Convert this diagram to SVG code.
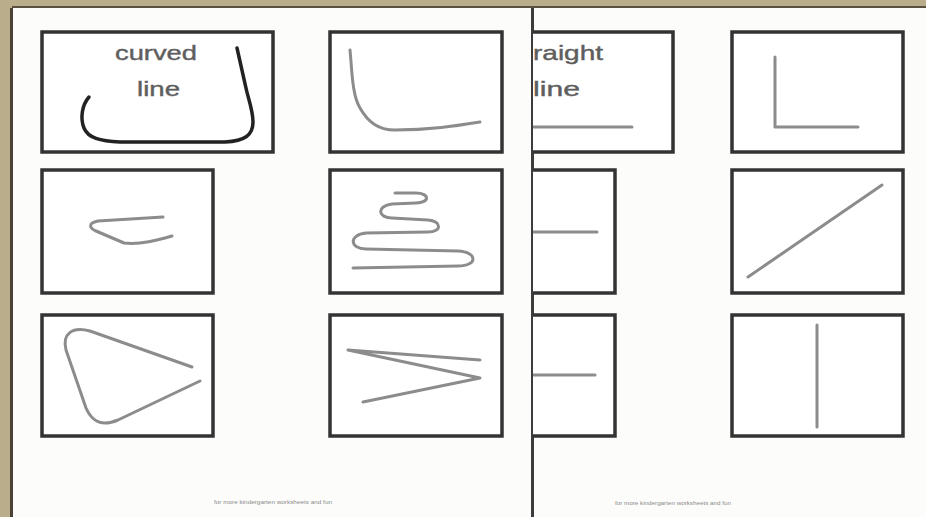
<svg xmlns="http://www.w3.org/2000/svg" width="926" height="517" viewBox="0 0 926 517">
<defs>
<style>
.box{fill:#fff;stroke:#333;stroke-width:3.5}
.ink{fill:none;stroke:#8c8c8c;stroke-width:3;stroke-linecap:round;stroke-linejoin:round}
.lbl{font-family:"Liberation Sans",Arial,sans-serif;font-size:21px;fill:#5e5e5e;stroke:#5e5e5e;stroke-width:0.4}
.foot{font-family:"Liberation Sans",Arial,sans-serif;font-size:5px;fill:#8a8a8a}
</style>
<clipPath id="rightPage"><rect x="533" y="0" width="400" height="517"/></clipPath>
</defs>
<rect x="0" y="0" width="926" height="517" fill="#fcfcfa"/>
<rect x="0" y="0" width="926" height="8" fill="#b9ad8c"/>
<rect x="0" y="6" width="926" height="2" fill="#5a5040"/>
<rect x="0" y="0" width="12" height="517" fill="#b9ad8c"/>
<rect x="10" y="8" width="3" height="509" fill="#4a4236"/>
<rect x="531" y="8" width="3" height="509" fill="#3c3c3c"/>

<g id="box-curved-label">
<rect class="box" x="42" y="32" width="231" height="120"/>
<text class="lbl" x="115" y="60" textLength="82" lengthAdjust="spacingAndGlyphs">curved</text>
<text class="lbl" x="137" y="96" textLength="43" lengthAdjust="spacingAndGlyphs">line</text>
<path d="M89,97 C82,105 80,118 84,128 C88,138 100,141 120,142 L225,142 C245,141 253,135 253,122 C253,110 248,98 246,88 L237,48" fill="none" stroke="#222" stroke-width="3.5" stroke-linecap="round"/>
</g>
<g id="box-r1c2">
<rect class="box" x="330" y="32" width="172" height="120"/>
<path class="ink" d="M350,50 C352,70 352,95 360,108 C368,122 378,130 395,130 C430,130 455,126 480,122"/>
</g>
<g id="box-straight-label" clip-path="url(#rightPage)">
<rect class="box" x="520" y="32" width="153" height="120"/>
<text class="lbl" x="533" y="60" textLength="70" lengthAdjust="spacingAndGlyphs">raight</text>
<text class="lbl" x="533" y="96" textLength="47" lengthAdjust="spacingAndGlyphs">line</text>
<path class="ink" d="M520,127 L632,127"/>
</g>
<g id="box-r1c4">
<rect class="box" x="732" y="32" width="171" height="120"/>
<path class="ink" d="M775,57 L775,127 L858,127"/>
</g>

<g id="box-r2c1">
<rect class="box" x="42" y="170" width="171" height="123"/>
<path class="ink" d="M163,217 L98,221 C88,223 89,228 96,231 L124,243 C140,245 158,240 172,236"/>
</g>
<g id="box-r2c2">
<rect class="box" x="330" y="170" width="172" height="123"/>
<path class="ink" d="M395,193 L416,193 C430,193 430,203 416,203 L392,204 C376,206 378,218 392,218 L428,220 C442,221 442,232 428,232 L366,233 C348,235 350,249 366,249 L458,251 C478,252 478,266 458,266 L353,268"/>
</g>
<g id="box-r2c3" clip-path="url(#rightPage)">
<rect class="box" x="520" y="170" width="95" height="123"/>
<path class="ink" d="M520,232 L597,232"/>
</g>
<g id="box-r2c4">
<rect class="box" x="732" y="170" width="171" height="123"/>
<path class="ink" d="M748,277 L882,185"/>
</g>

<g id="box-r3c1">
<rect class="box" x="42" y="315" width="171" height="121"/>
<path class="ink" d="M192,367 L90,331 C72,326 62,334 66,350 L86,408 C93,424 104,426 118,420 L200,381"/>
</g>
<g id="box-r3c2">
<rect class="box" x="330" y="315" width="172" height="121"/>
<path class="ink" d="M480,360 L348,350 L480,378 L363,402"/>
</g>
<g id="box-r3c3" clip-path="url(#rightPage)">
<rect class="box" x="520" y="315" width="95" height="121"/>
<path class="ink" d="M520,375 L595,375"/>
</g>
<g id="box-r3c4">
<rect class="box" x="732" y="315" width="171" height="121"/>
<path class="ink" d="M817,325 L817,427"/>
</g>

<text class="foot" x="273" y="504" text-anchor="middle" textLength="118" lengthAdjust="spacingAndGlyphs">for more kindergarten worksheets and fun</text>
<text class="foot" x="673" y="505" text-anchor="middle" textLength="116" lengthAdjust="spacingAndGlyphs">for more kindergarten worksheets and fun</text>
</svg>
